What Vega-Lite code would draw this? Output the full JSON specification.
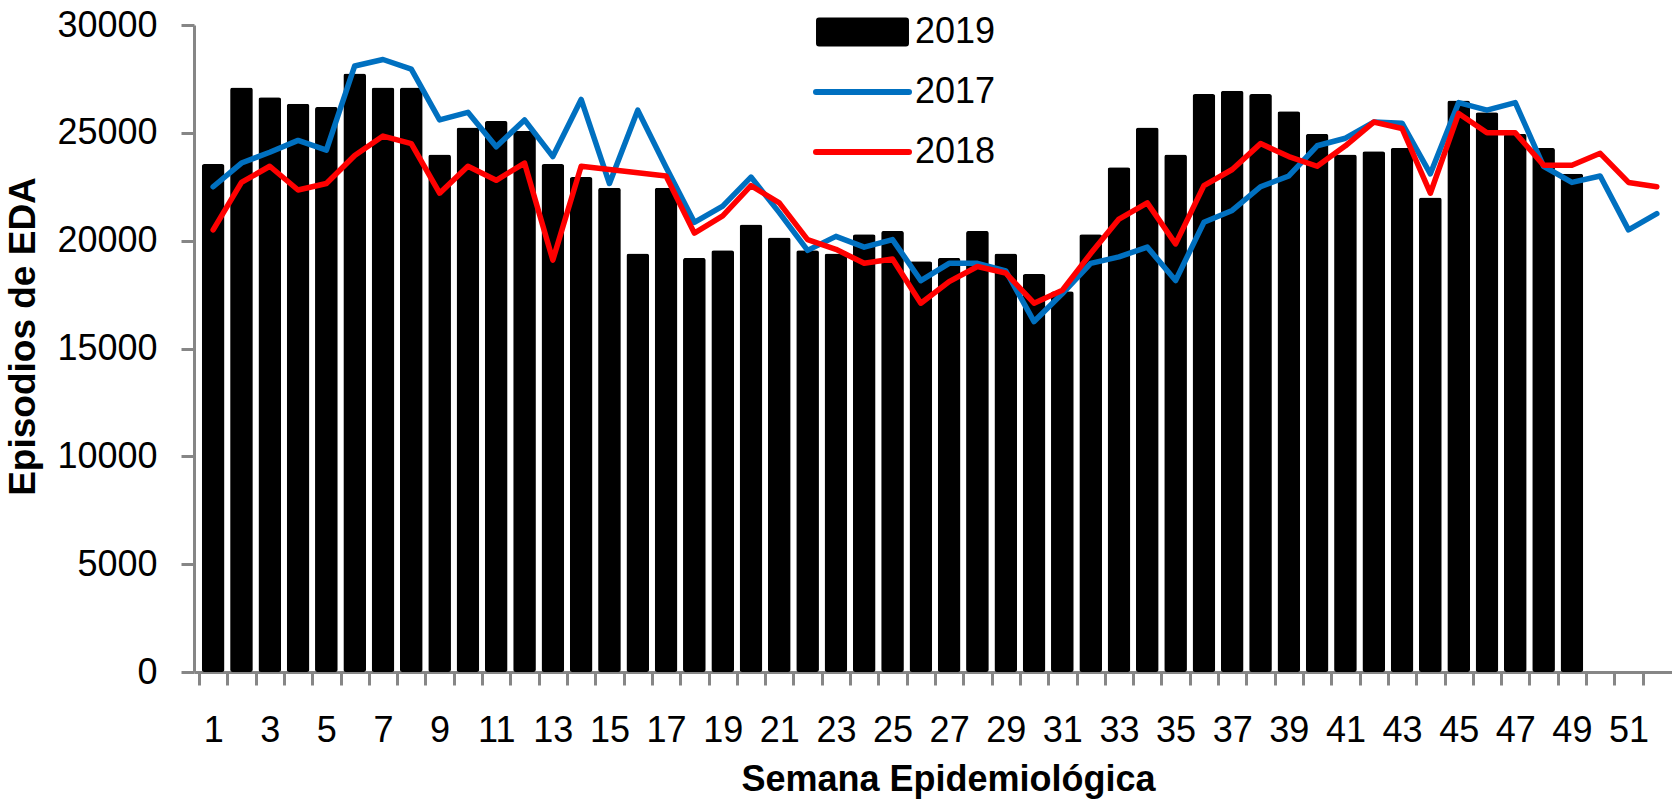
{
  "$schema": "https://vega.github.io/schema/vega-lite/v6.json",
  "width": 1478,
  "height": 647,
  "autosize": {"type": "none"},
  "padding": {"left": 194, "top": 25, "right": 0, "bottom": 129},
  "background": "#ffffff",
  "config": {"view": {"stroke": null}},
  "datasets": {
    "bars": [
      {"week": 1, "serie": "2019", "value": 23550},
      {"week": 2, "serie": "2019", "value": 27100},
      {"week": 3, "serie": "2019", "value": 26650},
      {"week": 4, "serie": "2019", "value": 26350},
      {"week": 5, "serie": "2019", "value": 26200},
      {"week": 6, "serie": "2019", "value": 27750},
      {"week": 7, "serie": "2019", "value": 27100},
      {"week": 8, "serie": "2019", "value": 27100},
      {"week": 9, "serie": "2019", "value": 24000},
      {"week": 10, "serie": "2019", "value": 25250},
      {"week": 11, "serie": "2019", "value": 25550},
      {"week": 12, "serie": "2019", "value": 25100},
      {"week": 13, "serie": "2019", "value": 23550},
      {"week": 14, "serie": "2019", "value": 22950},
      {"week": 15, "serie": "2019", "value": 22450},
      {"week": 16, "serie": "2019", "value": 19400},
      {"week": 17, "serie": "2019", "value": 22450},
      {"week": 18, "serie": "2019", "value": 19200},
      {"week": 19, "serie": "2019", "value": 19550},
      {"week": 20, "serie": "2019", "value": 20750},
      {"week": 21, "serie": "2019", "value": 20150},
      {"week": 22, "serie": "2019", "value": 19550},
      {"week": 23, "serie": "2019", "value": 19400},
      {"week": 24, "serie": "2019", "value": 20300},
      {"week": 25, "serie": "2019", "value": 20450},
      {"week": 26, "serie": "2019", "value": 19050},
      {"week": 27, "serie": "2019", "value": 19200},
      {"week": 28, "serie": "2019", "value": 20450},
      {"week": 29, "serie": "2019", "value": 19400},
      {"week": 30, "serie": "2019", "value": 18450},
      {"week": 31, "serie": "2019", "value": 17650},
      {"week": 32, "serie": "2019", "value": 20300},
      {"week": 33, "serie": "2019", "value": 23400},
      {"week": 34, "serie": "2019", "value": 25250},
      {"week": 35, "serie": "2019", "value": 24000},
      {"week": 36, "serie": "2019", "value": 26800},
      {"week": 37, "serie": "2019", "value": 26950},
      {"week": 38, "serie": "2019", "value": 26800},
      {"week": 39, "serie": "2019", "value": 26000},
      {"week": 40, "serie": "2019", "value": 24950},
      {"week": 41, "serie": "2019", "value": 24000},
      {"week": 42, "serie": "2019", "value": 24150},
      {"week": 43, "serie": "2019", "value": 24300},
      {"week": 44, "serie": "2019", "value": 22000},
      {"week": 45, "serie": "2019", "value": 26500},
      {"week": 46, "serie": "2019", "value": 25950},
      {"week": 47, "serie": "2019", "value": 24950},
      {"week": 48, "serie": "2019", "value": 24300},
      {"week": 49, "serie": "2019", "value": 23100}
    ],
    "y2017": [
      {"week": 1, "serie": "2017", "value": 22500},
      {"week": 2, "serie": "2017", "value": 23600},
      {"week": 3, "serie": "2017", "value": 24100},
      {"week": 4, "serie": "2017", "value": 24650},
      {"week": 5, "serie": "2017", "value": 24200},
      {"week": 6, "serie": "2017", "value": 28100},
      {"week": 7, "serie": "2017", "value": 28400},
      {"week": 8, "serie": "2017", "value": 27950},
      {"week": 9, "serie": "2017", "value": 25600},
      {"week": 10, "serie": "2017", "value": 25950},
      {"week": 11, "serie": "2017", "value": 24350},
      {"week": 12, "serie": "2017", "value": 25600},
      {"week": 13, "serie": "2017", "value": 23900},
      {"week": 14, "serie": "2017", "value": 26550},
      {"week": 15, "serie": "2017", "value": 22650},
      {"week": 16, "serie": "2017", "value": 26050},
      {"week": 17, "serie": "2017", "value": 23400},
      {"week": 18, "serie": "2017", "value": 20850},
      {"week": 19, "serie": "2017", "value": 21600},
      {"week": 20, "serie": "2017", "value": 22950},
      {"week": 21, "serie": "2017", "value": 21300},
      {"week": 22, "serie": "2017", "value": 19550},
      {"week": 23, "serie": "2017", "value": 20200},
      {"week": 24, "serie": "2017", "value": 19700},
      {"week": 25, "serie": "2017", "value": 20050},
      {"week": 26, "serie": "2017", "value": 18150},
      {"week": 27, "serie": "2017", "value": 18950},
      {"week": 28, "serie": "2017", "value": 18950},
      {"week": 29, "serie": "2017", "value": 18600},
      {"week": 30, "serie": "2017", "value": 16250},
      {"week": 31, "serie": "2017", "value": 17550},
      {"week": 32, "serie": "2017", "value": 18950},
      {"week": 33, "serie": "2017", "value": 19250},
      {"week": 34, "serie": "2017", "value": 19700},
      {"week": 35, "serie": "2017", "value": 18150},
      {"week": 36, "serie": "2017", "value": 20850},
      {"week": 37, "serie": "2017", "value": 21400},
      {"week": 38, "serie": "2017", "value": 22500},
      {"week": 39, "serie": "2017", "value": 23000},
      {"week": 40, "serie": "2017", "value": 24400},
      {"week": 41, "serie": "2017", "value": 24750},
      {"week": 42, "serie": "2017", "value": 25500},
      {"week": 43, "serie": "2017", "value": 25450},
      {"week": 44, "serie": "2017", "value": 23100},
      {"week": 45, "serie": "2017", "value": 26400},
      {"week": 46, "serie": "2017", "value": 26050},
      {"week": 47, "serie": "2017", "value": 26400},
      {"week": 48, "serie": "2017", "value": 23450},
      {"week": 49, "serie": "2017", "value": 22700},
      {"week": 50, "serie": "2017", "value": 23000},
      {"week": 51, "serie": "2017", "value": 20500},
      {"week": 52, "serie": "2017", "value": 21250}
    ],
    "y2018": [
      {"week": 1, "serie": "2018", "value": 20500},
      {"week": 2, "serie": "2018", "value": 22700},
      {"week": 3, "serie": "2018", "value": 23450},
      {"week": 4, "serie": "2018", "value": 22350},
      {"week": 5, "serie": "2018", "value": 22650},
      {"week": 6, "serie": "2018", "value": 23950},
      {"week": 7, "serie": "2018", "value": 24850},
      {"week": 8, "serie": "2018", "value": 24500},
      {"week": 9, "serie": "2018", "value": 22200},
      {"week": 10, "serie": "2018", "value": 23450},
      {"week": 11, "serie": "2018", "value": 22800},
      {"week": 12, "serie": "2018", "value": 23600},
      {"week": 13, "serie": "2018", "value": 19100},
      {"week": 14, "serie": "2018", "value": 23450},
      {"week": 15, "serie": "2018", "value": 23300},
      {"week": 16, "serie": "2018", "value": 23150},
      {"week": 17, "serie": "2018", "value": 23000},
      {"week": 18, "serie": "2018", "value": 20350},
      {"week": 19, "serie": "2018", "value": 21150},
      {"week": 20, "serie": "2018", "value": 22550},
      {"week": 21, "serie": "2018", "value": 21750},
      {"week": 22, "serie": "2018", "value": 20050},
      {"week": 23, "serie": "2018", "value": 19600},
      {"week": 24, "serie": "2018", "value": 18950},
      {"week": 25, "serie": "2018", "value": 19150},
      {"week": 26, "serie": "2018", "value": 17100},
      {"week": 27, "serie": "2018", "value": 18100},
      {"week": 28, "serie": "2018", "value": 18800},
      {"week": 29, "serie": "2018", "value": 18500},
      {"week": 30, "serie": "2018", "value": 17100},
      {"week": 31, "serie": "2018", "value": 17700},
      {"week": 32, "serie": "2018", "value": 19400},
      {"week": 33, "serie": "2018", "value": 21000},
      {"week": 34, "serie": "2018", "value": 21750},
      {"week": 35, "serie": "2018", "value": 19850},
      {"week": 36, "serie": "2018", "value": 22550},
      {"week": 37, "serie": "2018", "value": 23300},
      {"week": 38, "serie": "2018", "value": 24500},
      {"week": 39, "serie": "2018", "value": 23900},
      {"week": 40, "serie": "2018", "value": 23450},
      {"week": 41, "serie": "2018", "value": 24400},
      {"week": 42, "serie": "2018", "value": 25500},
      {"week": 43, "serie": "2018", "value": 25200},
      {"week": 44, "serie": "2018", "value": 22200},
      {"week": 45, "serie": "2018", "value": 25900},
      {"week": 46, "serie": "2018", "value": 25000},
      {"week": 47, "serie": "2018", "value": 25000},
      {"week": 48, "serie": "2018", "value": 23500},
      {"week": 49, "serie": "2018", "value": 23500},
      {"week": 50, "serie": "2018", "value": 24050},
      {"week": 51, "serie": "2018", "value": 22700},
      {"week": 52, "serie": "2018", "value": 22500}
    ]
  },
  "resolve": {"axis": {"x": "independent"}},
  "layer": [
    {
      "data": {"name": "bars"},
      "mark": {"type": "bar", "width": 22.7, "cornerRadius": 2.5, "color": "#000000"},
      "encoding": {
        "x": {
          "field": "week", "type": "quantitative",
          "scale": {"domain": [0.5, 52.36], "nice": false, "zero": false},
          "axis": {
            "orient": "bottom",
            "values": [0.5,1.5,2.5,3.5,4.5,5.5,6.5,7.5,8.5,9.5,10.5,11.5,12.5,13.5,14.5,15.5,16.5,17.5,18.5,19.5,20.5,21.5,22.5,23.5,24.5,25.5,26.5,27.5,28.5,29.5,30.5,31.5,32.5,33.5,34.5,35.5,36.5,37.5,38.5,39.5,40.5,41.5,42.5,43.5,44.5,45.5,46.5,47.5,48.5,49.5,50.5,51.5],
            "labels": false, "grid": false, "title": null,
            "domain": true, "domainColor": "#868686", "domainWidth": 3,
            "ticks": true, "tickColor": "#868686", "tickWidth": 3, "tickSize": 13
          }
        },
        "y": {
          "field": "value", "type": "quantitative",
          "scale": {"domain": [0, 30000], "nice": false},
          "axis": {
            "values": [0, 5000, 10000, 15000, 20000, 25000, 30000],
            "format": "d", "grid": false,
            "domain": true, "domainColor": "#868686", "domainWidth": 3,
            "ticks": true, "tickColor": "#868686", "tickWidth": 3, "tickSize": 13,
            "labelFont": "Liberation Sans", "labelFontSize": 36, "labelColor": "#000000", "labelPadding": 24,
            "title": "Episodios de EDA", "titleFont": "Liberation Sans", "titleFontSize": 37,
            "titleFontWeight": "bold", "titleColor": "#000000", "titlePadding": 14, "titleY": 311
          }
        },
        "color": {
          "field": "serie", "type": "nominal",
          "scale": {"domain": ["2019", "2017", "2018"], "range": ["#000000", "#0070C0", "#FF0000"]},
          "legend": {
            "orient": "none", "legendX": 619, "legendY": -11, "title": null, "padding": 0,
            "direction": "vertical", "columns": 1,
            "labelFont": "Liberation Sans", "labelFontSize": 36, "labelColor": "#000000",
            "labelOffset": 3, "rowPadding": 24, "clipHeight": 36,
            "symbolSize": 8649, "symbolStrokeWidth": 6,
            "encode": {
              "symbols": {
                "update": {
                  "shape": {"signal": "datum.value == '2019' ? 'M-0.935,-0.247L0.935,-0.247L0.935,0.247L-0.935,0.247Z' : 'stroke'"},
                  "fill": {"signal": "datum.value == '2019' ? '#000000' : 'transparent'"},
                  "stroke": {"signal": "datum.value == '2019' ? '#000000' : (datum.value == '2017' ? '#0070C0' : '#FF0000')"},
                  "strokeCap": {"value": "round"},
                  "strokeJoin": {"value": "round"},
                  "opacity": {"value": 1},
                  "fillOpacity": {"value": 1},
                  "strokeOpacity": {"value": 1}
                }
              }
            }
          }
        }
      }
    },
    {
      "data": {"name": "y2017"},
      "mark": {"type": "line", "strokeWidth": 5.5, "strokeJoin": "round", "strokeCap": "round"},
      "encoding": {
        "x": {
          "field": "week", "type": "quantitative",
          "axis": {
            "orient": "bottom",
            "values": [1,3,5,7,9,11,13,15,17,19,21,23,25,27,29,31,33,35,37,39,41,43,45,47,49,51],
            "format": "d", "ticks": false, "tickSize": 0, "domain": false, "grid": false,
            "labelFlush": false, "labelOverlap": false,
            "labelFont": "Liberation Sans", "labelFontSize": 36, "labelColor": "#000000", "labelPadding": 41,
            "title": "Semana Epidemiológica", "titleFont": "Liberation Sans", "titleFontSize": 36,
            "titleFontWeight": "bold", "titleColor": "#000000", "titlePadding": 14, "titleX": 754
          }
        },
        "y": {"field": "value", "type": "quantitative"},
        "color": {"field": "serie", "type": "nominal"}
      }
    },
    {
      "data": {"name": "y2018"},
      "mark": {"type": "line", "strokeWidth": 5.5, "strokeJoin": "round", "strokeCap": "round"},
      "encoding": {
        "x": {"field": "week", "type": "quantitative", "axis": null},
        "y": {"field": "value", "type": "quantitative"},
        "color": {"field": "serie", "type": "nominal"}
      }
    }
  ]
}
